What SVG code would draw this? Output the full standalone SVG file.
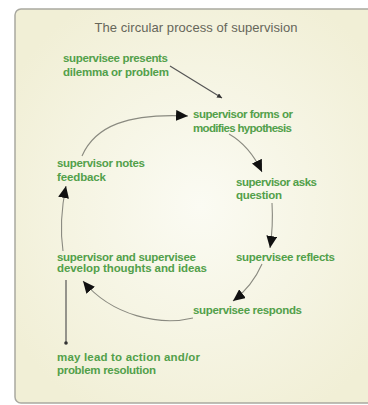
<svg xmlns="http://www.w3.org/2000/svg" width="368" height="405" viewBox="0 0 368 405">
<defs>
<radialGradient id="bg" cx="0.5" cy="0.5" r="0.6">
<stop offset="0" stop-color="#fbfbf3"/>
<stop offset="1" stop-color="#f1efd6"/>
</radialGradient>
<marker id="ah" markerUnits="userSpaceOnUse" markerWidth="13" markerHeight="11" refX="12" refY="5.5" orient="auto">
<path d="M0,0 L12,5.5 L0,11 z" fill="#111"/>
</marker>
<marker id="ahs" markerUnits="userSpaceOnUse" markerWidth="6" markerHeight="5" refX="5" refY="2.5" orient="auto">
<path d="M0,0 L5,2.5 L0,5 z" fill="#333"/>
</marker>
<marker id="dot" markerUnits="userSpaceOnUse" markerWidth="5" markerHeight="5" refX="2.5" refY="2.5">
<circle cx="2.5" cy="2.5" r="1.8" fill="#333"/>
</marker>
</defs>
<style>
.t{font-family:"Liberation Sans",Arial,sans-serif;font-size:11.5px;font-weight:bold;fill:#52a04a}
.title{font-family:"Liberation Sans",Arial,sans-serif;font-size:13px;fill:#66665a}
.c{fill:none;stroke:#8a8a80;stroke-width:1.1}
.d{fill:none;stroke:#555;stroke-width:1.2}
</style>
<rect width="368" height="405" fill="#ffffff"/>
<rect x="15" y="9" width="370" height="394" rx="6" fill="url(#bg)" stroke="#a9a9a0" stroke-width="1.5"/>
<text class="title" x="196" y="32" text-anchor="middle" textLength="203">The circular process of supervision</text>
<g id="connectors">
<path class="d" d="M170,66 L222,98" marker-end="url(#ahs)"/>
<path class="c" d="M82,156 C95,126 128,113 188,116" marker-end="url(#ah)"/>
<path class="c" d="M229,134 C243,142 254,155 262,172" marker-end="url(#ah)"/>
<path class="c" d="M272,203 C273,220 272,235 270,248" marker-end="url(#ah)"/>
<path class="c" d="M262,264 C255,280 246,291 233,301" marker-end="url(#ah)"/>
<path class="c" d="M193,318 C160,326 112,316 83,281" marker-end="url(#ah)"/>
<path class="c" d="M63,251 C60,230 61,210 66,186" marker-end="url(#ah)"/>
<path class="d" d="M66,280 L66,343" marker-end="url(#dot)"/>
</g>
<g id="n-presents"><text class="t" x="63" y="62" textLength="105">supervisee presents</text><text class="t" x="63" y="76" textLength="106">dilemma or problem</text></g>
<g id="n-forms"><text class="t" x="193" y="118" textLength="100">supervisor forms or</text><text class="t" x="193" y="132" textLength="99">modifies hypothesis</text></g>
<g id="n-asks"><text class="t" x="236" y="186" textLength="81">supervisor asks</text><text class="t" x="236" y="199" textLength="46">question</text></g>
<g id="n-reflects"><text class="t" x="236" y="261" textLength="99">supervisee reflects</text></g>
<g id="n-responds"><text class="t" x="193" y="314" textLength="109">supervisee responds</text></g>
<g id="n-develop"><text class="t" x="57" y="261" textLength="139">supervisor and supervisee</text><text class="t" x="57" y="272" textLength="150">develop thoughts and ideas</text></g>
<g id="n-notes"><text class="t" x="57" y="167" textLength="88">supervisor notes</text><text class="t" x="57" y="181" textLength="49">feedback</text></g>
<g id="n-lead"><text class="t" x="57" y="361" textLength="143">may lead to action and/or</text><text class="t" x="57" y="374" textLength="99">problem resolution</text></g>
</svg>
